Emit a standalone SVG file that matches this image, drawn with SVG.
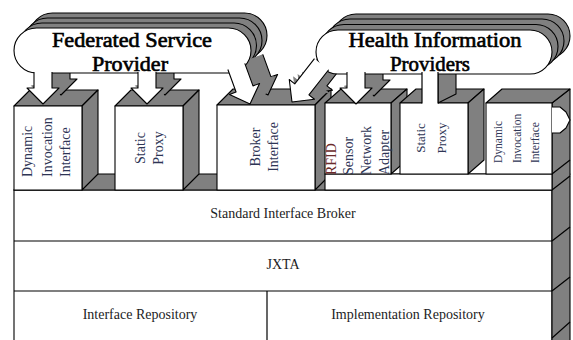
<svg xmlns="http://www.w3.org/2000/svg" xmlns:xlink="http://www.w3.org/1999/xlink" width="573" height="340" viewBox="0 0 573 340">
<style>
.g{fill:#808080;stroke:#000;stroke-width:1.1;stroke-linejoin:round}
.gs{fill:#808080;stroke:#808080;stroke-width:1}
.w{fill:#fff;stroke:#000;stroke-width:1.1;stroke-linejoin:round}
.ln{fill:none;stroke:#000;stroke-width:1.2}
.t{font-family:"Liberation Serif","Times New Roman",serif;font-size:14px;fill:#1c1c24;text-anchor:middle}
.v{font-family:"Liberation Serif","Times New Roman",serif;font-size:14px;fill:#2e3555}
.b{font-family:"Liberation Serif","Times New Roman",serif;font-size:20px;fill:#000;stroke:#000;stroke-width:0.6;text-anchor:middle}
</style>
<defs>
<path id="a32" d="M-9,-32 L-9,-16 L-16,-16 L0,0 L16,-16 L9,-16 L9,-32"/>
<g id="af3" transform="rotate(-20)"><path d="M-9,-40 L-9,-16 L-16,-16 L0,0 L16,-16 L9,-16 L9,-40"/></g>
<g id="ah1" transform="rotate(38)"><path d="M-9,-48 L-9,-16 L-16,-16 L0,0 L16,-16 L9,-16 L9,-48"/></g>
<path id="fb" d="M36.5,28 H228.5 A22.5,22.5 0 0 1 228.5,73 H36.5 A22.5,22.5 0 0 1 36.5,28 Z"/>
<path id="hb" d="M338,30 H530 A22,22 0 0 1 530,74 H338 A22,22 0 0 1 338,30 Z"/>
</defs>

<g id="layers">
<rect x="14" y="190" width="538" height="160" class="w"/>
<line x1="14" y1="241" x2="552" y2="241" class="ln"/>
<line x1="14" y1="291" x2="552" y2="291" class="ln"/>
<line x1="267" y1="291" x2="267" y2="345" class="ln"/>
<polygon points="14,190 30,174 570,174 552,190" class="g"/>
<polygon points="552,103 570,89 570,345 552,345" class="g"/>
<line x1="552" y1="174" x2="570" y2="160" class="ln"/>
<line x1="552" y1="190" x2="570" y2="176" class="ln"/>
<line x1="552" y1="241" x2="570" y2="227" class="ln"/>
<line x1="552" y1="291" x2="570" y2="277" class="ln"/>
<line x1="552" y1="338" x2="570" y2="322" class="ln"/>
<text class="t" x="283" y="218">Standard Interface Broker</text>
<text class="t" x="283" y="269">JXTA</text>
<text class="t" x="140" y="319">Interface Repository</text>
<text class="t" x="408" y="319">Implementation Repository</text>
</g>

<g id="dii-left">
<polygon points="14,106 30,90 98,90 82,106" class="g"/>
<polygon points="82,106 98,90 98,174 82,190" class="g"/>
<rect x="14" y="106" width="68" height="84" class="w"/>
</g>
<g id="static-left">
<polygon points="115,106 131,90 199,90 183,106" class="g"/>
<polygon points="183,106 199,90 199,174 183,190" class="g"/>
<rect x="115" y="106" width="68" height="84" class="w"/>
</g>
<g id="broker-interface">
<polygon points="217,105 233,89 331,89 315,105" class="g"/>
<polygon points="315,105 331,89 331,174 315,190" class="g"/>
<rect x="217" y="105" width="98" height="85" class="w"/>
</g>
<g id="right-base">
<rect x="325" y="174" width="227" height="16" class="w"/>
</g>
<g id="rfid">
<polygon points="325,103 341,89 407,89 391,103" class="g"/>
<polygon points="391,103 407,89 407,160 391,174" class="g"/>
<rect x="325" y="103" width="66" height="71" class="w"/>
</g>
<g id="static-right">
<polygon points="400,103 416,89 484,89 468,103" class="g"/>
<polygon points="468,103 484,89 484,160 468,174" class="g"/>
<rect x="400" y="103" width="68" height="71" class="w"/>
</g>
<g id="dii-right">
<polygon points="486,103 502,89 570,89 552,103" class="g"/>
<rect x="486" y="103" width="66" height="71" class="w"/>
</g>

<g id="bubble-backs">
<use xlink:href="#fb" transform="translate(16,-15)" class="g"/>
<use xlink:href="#fb" transform="translate(11,-10)" class="g"/>
<use xlink:href="#fb" transform="translate(5.5,-5)" class="g"/>
<use xlink:href="#hb" transform="translate(18,-16)" class="g"/>
<use xlink:href="#hb" transform="translate(12,-11)" class="g"/>
<use xlink:href="#hb" transform="translate(6,-5.5)" class="g"/>
</g>

<g id="connectors">
<g id="arrow-shadows">
<use xlink:href="#a32" transform="translate(61,95)" class="g"/>
<use xlink:href="#a32" transform="translate(56.5,97.25)" class="gs"/>
<use xlink:href="#a32" transform="translate(52,99.5)" class="gs"/>
<use xlink:href="#a32" transform="translate(47.5,101.75)" class="gs"/>
<use xlink:href="#a32" transform="translate(165,95)" class="g"/>
<use xlink:href="#a32" transform="translate(160.5,97.25)" class="gs"/>
<use xlink:href="#a32" transform="translate(156,99.5)" class="gs"/>
<use xlink:href="#a32" transform="translate(151.5,101.75)" class="gs"/>
<use xlink:href="#af3" transform="translate(268,95)" class="g"/>
<use xlink:href="#af3" transform="translate(263.5,97.25)" class="gs"/>
<use xlink:href="#af3" transform="translate(259,99.5)" class="gs"/>
<use xlink:href="#af3" transform="translate(254.5,101.75)" class="gs"/>
<use xlink:href="#ah1" transform="translate(310,93)" class="g"/>
<use xlink:href="#ah1" transform="translate(305.5,95.25)" class="gs"/>
<use xlink:href="#ah1" transform="translate(301,97.5)" class="gs"/>
<use xlink:href="#ah1" transform="translate(296.5,99.75)" class="gs"/>
<use xlink:href="#a32" transform="translate(374,96)" class="g"/>
<use xlink:href="#a32" transform="translate(369.5,98)" class="gs"/>
<use xlink:href="#a32" transform="translate(365,100)" class="gs"/>
<use xlink:href="#a32" transform="translate(360.5,102)" class="gs"/>
<polygon points="438,72 456,63 456,94 438,103" class="g"/>
</g>
</g>

<g id="federated-service-provider">
<use xlink:href="#fb" class="w"/>
</g>
<g id="health-information-providers">
<use xlink:href="#hb" class="w"/>
</g>

<g id="arrow-fronts">
<use xlink:href="#a32" transform="translate(43,104)" class="w"/>
<use xlink:href="#a32" transform="translate(147,104)" class="w"/>
<use xlink:href="#af3" transform="translate(250,104)" class="w"/>
<use xlink:href="#ah1" transform="translate(292,102)" class="w"/>
<use xlink:href="#a32" transform="translate(356,104)" class="w"/>
<rect x="422" y="72" width="16" height="32" fill="#fff"/>
<path d="M422,72 V103.5 M438,72 V103.5" class="ln"/>
<path d="M552,107 L560,107 L566,112 L570,120 L566,128 L560,133 L552,133" class="w"/>
</g>

<g id="bubble-labels">
<text class="b" x="132" y="47" textLength="160" lengthAdjust="spacingAndGlyphs">Federated Service</text>
<text class="b" x="130" y="71" textLength="76" lengthAdjust="spacingAndGlyphs">Provider</text>
<text class="b" x="435" y="47" textLength="173" lengthAdjust="spacingAndGlyphs">Health Information</text>
<text class="b" x="430" y="71" textLength="80" lengthAdjust="spacingAndGlyphs">Providers</text>
</g>

<g id="box-labels">
<text class="v" transform="translate(32,177) rotate(-90)">Dynamic</text>
<text class="v" transform="translate(52,177) rotate(-90)">Invocation</text>
<text class="v" transform="translate(70,177) rotate(-90)">Interface</text>
<text class="v" text-anchor="middle" transform="translate(144.5,148) rotate(-90)">Static</text>
<text class="v" text-anchor="middle" transform="translate(162.5,148) rotate(-90)">Proxy</text>
<text class="v" text-anchor="middle" transform="translate(260,147) rotate(-90)">Broker</text>
<text class="v" text-anchor="middle" transform="translate(278,147) rotate(-90)">Interface</text>
<text class="v" style="fill:#6a2a2a" transform="translate(336,175) rotate(-90)">RFID</text>
<text class="v" transform="translate(353,175) rotate(-90)">Sensor</text>
<text class="v" transform="translate(371,175) rotate(-90)">Network</text>
<text class="v" transform="translate(389,175) rotate(-90)">Adapter</text>
<text class="v" text-anchor="middle" style="font-size:13px" transform="translate(424.5,138) rotate(-90)">Static</text>
<text class="v" text-anchor="middle" style="font-size:13px" transform="translate(446,138) rotate(-90)">Proxy</text>
<text class="v" style="font-size:11.5px" transform="translate(502,163) rotate(-90)">Dynamic</text>
<text class="v" style="font-size:11.5px" transform="translate(521,163) rotate(-90)">Invocation</text>
<text class="v" style="font-size:11.5px" transform="translate(539,163) rotate(-90)">Interface</text>
</g>
</svg>
